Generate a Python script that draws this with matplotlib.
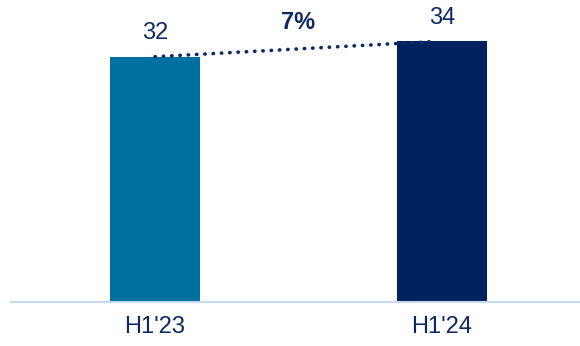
import matplotlib
matplotlib.use('Agg')
import matplotlib.pyplot as plt

periods = ["H1'23", "H1'24"]
values = [32, 34]
growth_label = "7%"

bar_colors = ['#0070a0', '#00235f']
text_color = '#0e2a64'

plt.rcParams['font.family'] = ['Liberation Sans', 'DejaVu Sans']

fig = plt.figure(figsize=(5.8, 3.46), dpi=100)
ax = fig.add_axes([11 / 580, 44 / 346, 569 / 580, 302 / 346])

x = list(range(len(periods)))
ax.bar(x, values, width=0.314, color=bar_colors, zorder=2)

# value labels
for xi, v in zip(x, values):
    ax.text(xi, v + 1.6, str(v), ha='center', va='bottom',
            fontsize=17, color=text_color)

# dotted growth line between bar tops
ax.plot([x[0], x[1] - 0.02], [values[0], values[1]], color=text_color,
        linewidth=2.6, linestyle=(0, (0.1, 2.2)), dash_capstyle='round',
        zorder=3)
ax.text((x[0] + x[1]) / 2, max(values) + 1.0, growth_label, ha='center',
        va='bottom', fontsize=17, fontweight='bold', color=text_color)

ax.set_xlim(-0.502, 1.481)
ax.set_ylim(0, 39.4)
ax.set_yticks([])
ax.set_xticks(x)
ax.set_xticklabels(periods, fontsize=17, color=text_color)
ax.tick_params(axis='x', length=0, pad=10)
for side in ['top', 'right', 'left']:
    ax.spines[side].set_visible(False)
ax.spines['bottom'].set_color('#c5d9f1')
ax.spines['bottom'].set_linewidth(1.5)

fig.savefig('out.png', dpi=100)
